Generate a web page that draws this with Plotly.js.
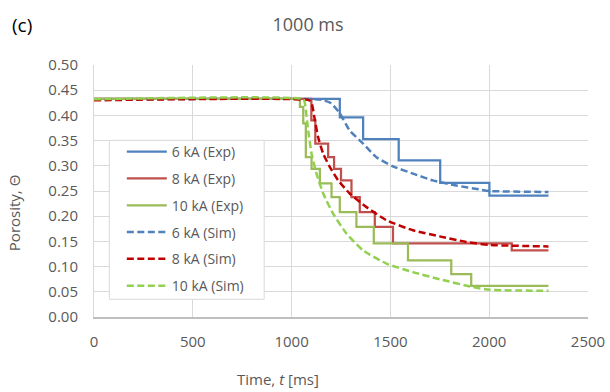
<!DOCTYPE html>
<html>
<head>
<meta charset="utf-8">
<script src="https://cdn.plot.ly/plotly-3.0.1.min.js"></script>
<style>
  html, body { margin: 0; padding: 0; background: #ffffff; }
  #chart { width: 610px; height: 392px; }
</style>
</head>
<body>
<div id="chart"></div>
<script>
// Experimental porosity (step data, held until the next time stamp)
const exp6Time  = [0, 1244, 1362, 1542, 1752, 2001, 2300];
const exp6Por   = [0.433, 0.396, 0.353, 0.311, 0.266, 0.241, 0.241];

const exp8Time  = [0, 1100, 1120, 1185, 1215, 1250, 1303, 1345, 1421, 1513, 2114, 2300];
const exp8Por   = [0.433, 0.390, 0.344, 0.317, 0.294, 0.271, 0.238, 0.208, 0.179, 0.146, 0.132, 0.132];

const exp10Time = [0, 1042, 1059, 1072, 1101, 1143, 1202, 1244, 1328, 1416, 1589, 1808, 1909, 2300];
const exp10Por  = [0.433, 0.417, 0.384, 0.317, 0.294, 0.265, 0.238, 0.208, 0.179, 0.146, 0.1125, 0.085, 0.062, 0.062];

// Simulated porosity
const sim6Time  = [0, 1150, 1200, 1244, 1294, 1362, 1429, 1513, 1614, 1715, 1833, 1951, 2001, 2300];
const sim6Por   = [0.431, 0.431, 0.424, 0.404, 0.370, 0.344, 0.317, 0.299, 0.2845, 0.271, 0.261, 0.253, 0.250, 0.248];

const sim8Time  = [0, 1090, 1101, 1118, 1134, 1160, 1193, 1236, 1294, 1379, 1480, 1614, 1749, 1884, 2001, 2300];
const sim8Por   = [0.430, 0.430, 0.425, 0.390, 0.357, 0.324, 0.298, 0.271, 0.245, 0.218, 0.192, 0.172, 0.160, 0.149, 0.143, 0.140];

const sim10Time = [0, 1060, 1067, 1084, 1101, 1126, 1160, 1210, 1278, 1362, 1480, 1614, 1749, 1917, 2001, 2300];
const sim10Por  = [0.432, 0.432, 0.425, 0.370, 0.324, 0.2845, 0.245, 0.205, 0.1655, 0.132, 0.106, 0.089, 0.075, 0.0595, 0.054, 0.052];

const seriesNames = ['6 kA (Exp)', '8 kA (Exp)', '10 kA (Exp)', '6 kA (Sim)', '8 kA (Sim)', '10 kA (Sim)'];
const xTicks = [0, 500, 1000, 1500, 2000, 2500];

const FONT = '"Open Sans", "DejaVu Sans", sans-serif';
const GREY = '#595959';
const DASH = '7px,3.5px';

function expTrace(x, y, name, color, grp) {
  return { x, y, name, type: 'scatter', mode: 'lines', legendgroup: grp,
           line: { color, width: 2.25, shape: 'hv' } };
}
function simTrace(x, y, name, color, grp) {
  return { x, y, name, type: 'scatter', mode: 'lines', legendgroup: grp,
           line: { color, width: 2.5, dash: DASH, shape: 'spline', smoothing: 0.5 } };
}

const traces = [
  expTrace(exp6Time,  exp6Por,  seriesNames[0], '#4f81bd', 'a'),
  expTrace(exp8Time,  exp8Por,  seriesNames[1], '#c0504d', 'b'),
  expTrace(exp10Time, exp10Por, seriesNames[2], '#9bbb59', 'c'),
  simTrace(sim6Time,  sim6Por,  seriesNames[3], '#4f81bd', 'd'),
  simTrace(sim8Time,  sim8Por,  seriesNames[4], '#c00000', 'e'),
  simTrace(sim10Time, sim10Por, seriesNames[5], '#92d050', 'f')
];

const layout = {
  width: 610, height: 392,
  margin: { l: 93.7, r: 22, t: 64.7, b: 75.3 },
  paper_bgcolor: '#ffffff', plot_bgcolor: '#ffffff',
  font: { family: FONT, size: 15, color: GREY },
  title: { text: '1000 ms', x: 0.505, xref: 'container', xanchor: 'center',
           y: 0.936, yref: 'container', yanchor: 'middle',
           font: { family: FONT, size: 18, color: GREY } },
  xaxis: {
    range: [0, 2500], tickvals: xTicks, ticktext: xTicks.map(String),
    showgrid: true, gridcolor: '#d9d9d9', gridwidth: 1,
    showline: true, linecolor: '#bfbfbf', linewidth: 2,
    zeroline: false, ticks: '', ticklabelstandoff: 10,
    tickfont: { family: FONT, size: 15, color: GREY }
  },
  yaxis: {
    range: [0, 0.5], dtick: 0.05, tick0: 0, tickformat: '.2f',
    showgrid: true, gridcolor: '#d9d9d9', gridwidth: 1,
    showline: true, linecolor: '#d9d9d9', linewidth: 1,
    zeroline: false, ticks: '', ticklabelstandoff: 12,
    tickfont: { family: FONT, size: 15, color: GREY }
  },
  showlegend: true,
  legend: {
    x: 0.0563, y: 0.718, xanchor: 'left', yanchor: 'top',
    bgcolor: 'rgba(0,0,0,0)', borderwidth: 0,
    traceorder: 'grouped', tracegroupgap: 5.6, itemwidth: 40,
    font: { family: FONT, size: 14, color: GREY }
  },
  // white legend panel with a thin grey frame, sitting over the gridlines
  shapes: [
    { type: 'rect', xref: 'paper', yref: 'paper', layer: 'above',
      x0: 0.031, x1: 0.3445, y0: 0.0702, y1: 0.701,
      fillcolor: '#ffffff', line: { color: '#d9d9d9', width: 1 } }
  ],
  annotations: [
    { text: '(c)', xref: 'paper', yref: 'paper', x: -0.145, y: 1.16,
      xanchor: 'center', yanchor: 'middle', showarrow: false,
      font: { family: FONT, size: 19, color: '#000000' } },
    { text: 'Porosity, Θ', xref: 'paper', yref: 'paper', x: -0.163, y: 0.414,
      xanchor: 'center', yanchor: 'middle', textangle: -90, showarrow: false,
      font: { family: FONT, size: 15, color: GREY } },
    { text: 'Time, <i>t</i> [ms]', xref: 'paper', yref: 'paper', x: 0.373, y: -0.247,
      xanchor: 'center', yanchor: 'middle', showarrow: false,
      font: { family: FONT, size: 15, color: GREY } }
  ]
};

Plotly.newPlot('chart', traces, layout, { displayModeBar: false, staticPlot: true });
</script>
</body>
</html>
